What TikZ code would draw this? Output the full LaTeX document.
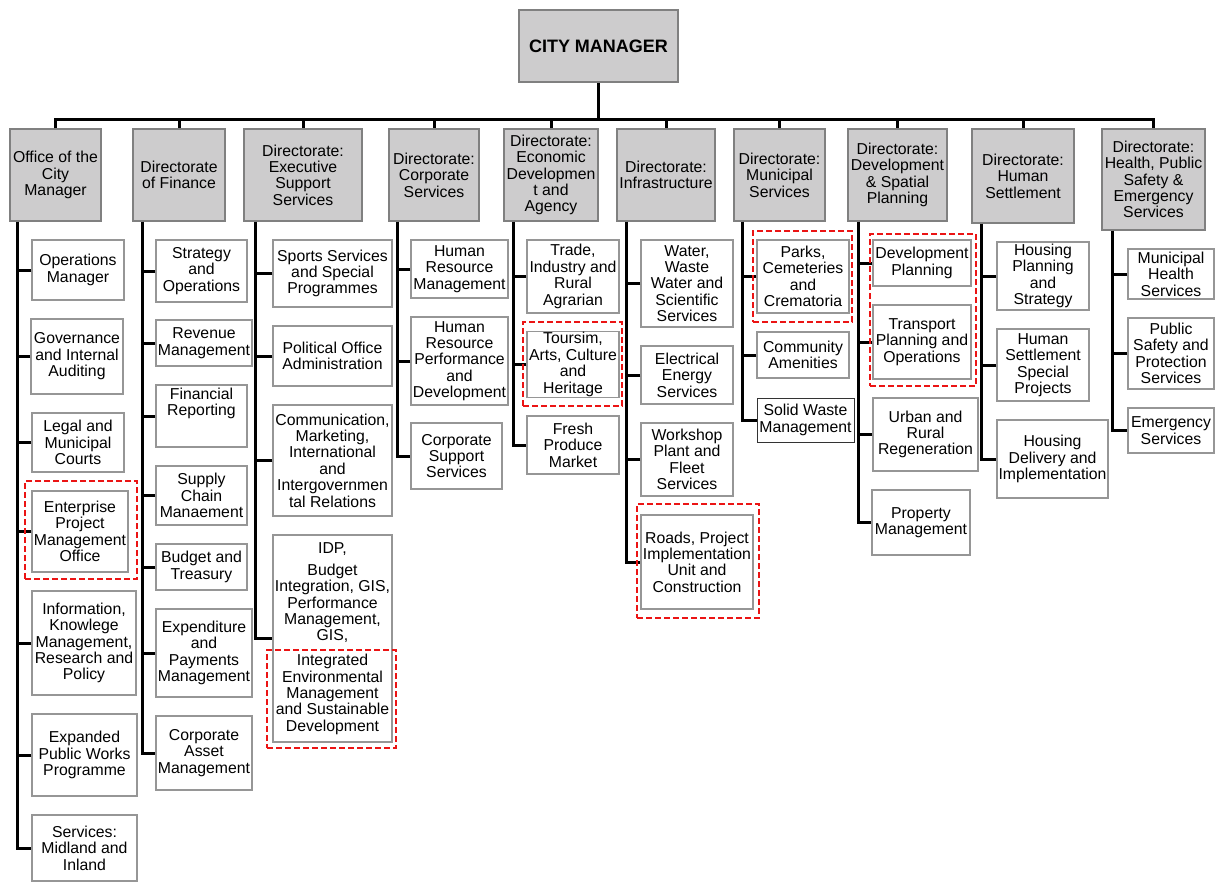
\documentclass[tikz,border=0pt]{standalone}
\usepackage{fontspec}
\setmainfont{Liberation Sans}
\definecolor{dirfill}{RGB}{205,204,205}
\definecolor{dirline}{RGB}{128,128,128}
\definecolor{boxline}{RGB}{150,150,150}
\definecolor{hlred}{RGB}{235,20,20}
\newcommand\bx[7][subbox]{%
  \pgfmathsetmacro\bxw{#5-#3}\pgfmathsetmacro\bxh{#6-#4}%
  \node[#1, minimum width=\bxw pt, minimum height=\bxh pt] (#2) at ({(#3+#5)/2},{(#4+#6)/2}) {#7};}
\tikzset{
  base/.style={rectangle, inner sep=1pt, align=center, font=\fontsize{15.8}{16.4}\selectfont, line width=1.3pt},
  dirbox/.style={base, draw=dirline, fill=dirfill},
  subbox/.style={base, draw=boxline, fill=white},
  darkbox/.style={base, draw=black!80, line width=0.9pt, fill=white},
  topbox/.style={dirbox, font=\fontsize{18}{20}\selectfont\bfseries},
  hlbox/.style={rectangle, draw=hlred, dash pattern=on 6pt off 3pt, line width=2.3pt, inner sep=0pt},
  conn/.style={line width=3pt, draw=black},
}
\begin{document}
\begin{tikzpicture}[x=1pt,y=-1pt]
\useasboundingbox (0,0) rectangle (1217,881);
% top
\bx[topbox]{cm}{519}{10}{678}{82}{CITY MANAGER}
% directorates
\bx[dirbox]{d1}{10}{129}{101}{221}{Office of the\\City\\Manager}
\bx[dirbox]{d2}{133}{129}{225}{221}{Directorate\\of Finance}
\bx[dirbox]{d3}{244}{129}{362}{221}{Directorate:\\Executive\\Support\\Services}
\bx[dirbox]{d4}{389}{129}{479}{221}{Directorate:\\Corporate\\Services}
\bx[dirbox]{d5}{504}{129}{598}{221}{Directorate:\\Economic\\Developmen\\t and\\Agency}
\bx[dirbox]{d6}{617}{129}{715}{221}{Directorate:\\Infrastructure}
\bx[dirbox]{d7}{734}{129}{825}{221}{Directorate:\\Municipal\\Services}
\bx[dirbox]{d8}{848}{129}{947}{221}{Directorate:\\Development\\\& Spatial\\Planning}
\bx[dirbox]{d9}{972}{129}{1074}{223}{Directorate:\\Human\\Settlement}
\bx[dirbox]{d10}{1102}{129}{1205}{230}{Directorate:\\Health, Public\\Safety \&\\Emergency\\Services}
% Office of the City Manager
\bx{a1}{32}{240}{124}{300}{Operations\\Manager}
\bx{a2}{31}{319}{123}{394}{Governance\\and Internal\\Auditing}
\bx{a3}{32}{413}{124}{472}{Legal and\\Municipal\\Courts}
\bx{a4}{32}{491}{128}{572}{Enterprise\\Project\\Management\\Office}
\bx{a5}{32}{591}{136}{695}{Information,\\Knowlege\\Management,\\Research and\\Policy}
\bx{a6}{32}{714}{137}{796}{Expanded\\Public Works\\Programme}
\bx{a7}{32}{815}{137}{881}{Services:\\Midland and\\Inland}
% Finance
\bx{b1}{156}{240}{247}{302}{Strategy\\and\\Operations}
\bx{b2}{156}{320}{252}{366}{Revenue\\Management}
\bx{b3}{156}{385}{247}{447}{}
\node[base] (b3t) at ([yshift=-19pt]b3.north) {Financial\\Reporting};
\bx{b4}{156}{466}{247}{525}{Supply\\Chain\\Manaement}
\bx{b5}{156}{544}{247}{590}{Budget and\\Treasury}
\bx{b6}{156}{609}{252}{697}{Expenditure\\and\\Payments\\Management}
\bx{b7}{156}{716}{252}{790}{Corporate\\Asset\\Management}
% Executive Support
\bx{e1}{273}{240}{392}{307}{Sports Services\\and Special\\Programmes}
\bx{e2}{273}{326}{392}{386}{Political Office\\Administration}
\bx{e3}{273}{405}{392}{516}{Communication,\\Marketing,\\International\\and\\Intergovernmen\\tal Relations}
\bx{e4}{273}{535}{392}{742}{IDP,\\[5.5pt]Budget\\Integration, GIS,\\Performance\\Management,\\GIS,\\[8.5pt]Integrated\\Environmental\\Management\\and Sustainable\\Development}
% Corporate
\bx{f1}{411}{240}{508}{298}{Human\\Resource\\Management}
\bx{f2}{411}{317}{508}{405}{Human\\Resource\\Performance\\and\\Development}
\bx{f3}{411}{423}{502}{489}{Corporate\\Support\\Services}
% Economic
\bx{g1}{527}{240}{619}{313}{Trade,\\Industry and\\Rural\\Agrarian}
\bx{g2}{527}{332}{619}{397}{Toursim,\\Arts, Culture\\and\\Heritage}
\bx{g3}{527}{416}{619}{474}{Fresh\\Produce\\Market}
% Infrastructure
\bx{h1}{641}{240}{733}{327}{Water,\\Waste\\Water and\\Scientific\\Services}
\bx{h2}{641}{346}{733}{404}{Electrical\\Energy\\Services}
\bx{h3}{641}{423}{733}{496}{Workshop\\Plant and\\Fleet\\Services}
\bx{h4}{641}{515}{753}{609}{Roads, Project\\Implementation\\Unit and\\Construction}
% Municipal
\bx{i1}{757}{240}{849}{313}{Parks,\\Cemeteries\\and\\Crematoria}
\bx{i2}{757}{332}{849}{378}{Community\\Amenities}
\bx[darkbox]{i3}{757}{398}{854}{442}{Solid Waste\\Management}
% Development & Spatial
\bx{j1}{873}{240}{971}{286}{Development\\Planning}
\bx{j2}{873}{305}{971}{379}{Transport\\Planning and\\Operations}
\bx{j3}{873}{398}{978}{471}{Urban and\\Rural\\Regeneration}
\bx{j4}{872}{490}{970}{555}{Property\\Management}
% Human Settlement
\bx{k1}{997}{242}{1089}{310}{Housing\\Planning\\and\\Strategy}
\bx{k2}{997}{329}{1089}{401}{Human\\Settlement\\Special\\Projects}
\bx{k3}{997}{420}{1108}{498}{Housing\\Delivery and\\Implementation}
% Health
\bx{l1}{1128}{249}{1214}{299}{Municipal\\Health\\Services}
\bx{l2}{1128}{318}{1214}{389}{Public\\Safety and\\Protection\\Services}
\bx{l3}{1128}{408}{1214}{453}{Emergency\\Services}
% connectors: top
\coordinate (bus) at (0,119);
\draw[conn] (cm.south) -- (cm.south |- bus);
\draw[conn] (d1.north) -- (d1.north |- bus) -- (d10.north |- bus) -- (d10.north);
\foreach \d in {d2,d3,d4,d5,d6,d7,d8,d9}
  \draw[conn] (\d.north |- bus) -- (\d.north);
% spines
\coordinate (s1) at ([xshift=8pt]d1.south west);
\coordinate (s2) at ([xshift=10pt]d2.south west);
\coordinate (s3) at ([xshift=12pt]d3.south west);
\coordinate (s4) at ([xshift=9pt]d4.south west);
\coordinate (s5) at ([xshift=10pt]d5.south west);
\coordinate (s6) at ([xshift=10pt]d6.south west);
\coordinate (s7) at ([xshift=9pt]d7.south west);
\coordinate (s8) at ([xshift=11pt]d8.south west);
\coordinate (s9) at ([xshift=10pt]d9.south west);
\coordinate (s10) at ([xshift=11pt]d10.south west);
\draw[conn] (s1) |- (a7.west);
\foreach \c in {a1,a2,a3,a4,a5,a6} \draw[conn] (\c.west) -- (\c.west -| s1);
\draw[conn] (s2) |- (b7.west);
\foreach \c in {b1,b2,b3,b4,b5,b6} \draw[conn] (\c.west) -- (\c.west -| s2);
\draw[conn] (s3) |- (e4.west);
\foreach \c in {e1,e2,e3} \draw[conn] (\c.west) -- (\c.west -| s3);
\draw[conn] (s4) |- (f3.west);
\foreach \c in {f1,f2} \draw[conn] (\c.west) -- (\c.west -| s4);
\draw[conn] (s5) |- (g3.west);
\foreach \c in {g1,g2} \draw[conn] (\c.west) -- (\c.west -| s5);
\draw[conn] (s6) |- (h4.west);
\foreach \c in {h1,h2,h3} \draw[conn] (\c.west) -- (\c.west -| s6);
\draw[conn] (s7) |- (i3.west);
\foreach \c in {i1,i2} \draw[conn] (\c.west) -- (\c.west -| s7);
\draw[conn] (s8) |- (j4.west);
\foreach \c in {j1,j2,j3} \draw[conn] (\c.west) -- (\c.west -| s8);
\draw[conn] (s9) |- (k3.west);
\foreach \c in {k1,k2} \draw[conn] (\c.west) -- (\c.west -| s9);
\draw[conn] (s10) |- (l3.west);
\foreach \c in {l1,l2} \draw[conn] (\c.west) -- (\c.west -| s10);
% highlights
\bx[hlbox]{hl1}{25}{481}{137}{579}{}
\bx[hlbox]{hl2}{267}{650}{396}{748}{}
\bx[hlbox]{hl3}{523}{322}{622}{406}{}
\bx[hlbox]{hl4}{637}{504}{759}{618}{}
\bx[hlbox]{hl5}{753}{231}{852}{322}{}
\bx[hlbox]{hl6}{870}{234}{976}{386}{}
\end{tikzpicture}
\end{document}
